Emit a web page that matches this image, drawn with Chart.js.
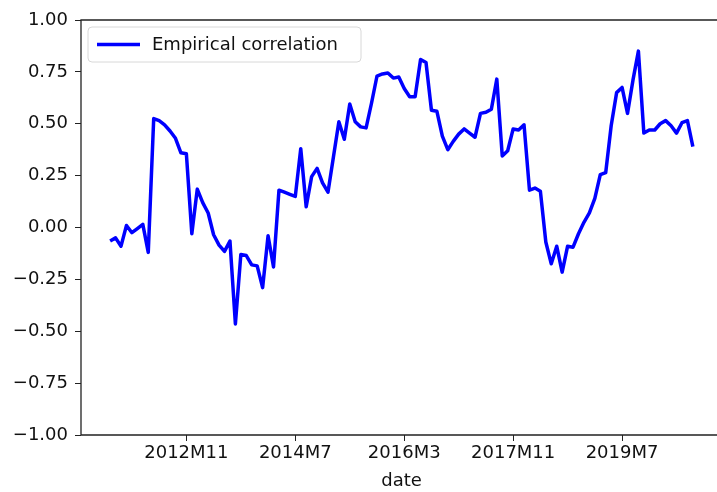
<!DOCTYPE html>
<html>
<head>
<meta charset="utf-8">
<script src="https://cdn.jsdelivr.net/npm/chart.js@4/dist/chart.umd.min.js"></script>
<style>
  html, body { margin: 0; padding: 0; background: #fff; overflow: hidden; width: 717px; height: 492px; }
  #wrap { position: absolute; left: 0; top: 0; width: 717px; height: 492px; overflow: hidden; }
  #corrChart { display: block; }
</style>
</head>
<body>
<div id="wrap"><canvas id="corrChart" width="740" height="492"></canvas></div>
<script>
// months 2011M9 .. 2020M8
var months = [
  '2011M9','2011M10','2011M11','2011M12',
  '2012M1','2012M2','2012M3','2012M4','2012M5','2012M6','2012M7','2012M8','2012M9','2012M10','2012M11','2012M12',
  '2013M1','2013M2','2013M3','2013M4','2013M5','2013M6','2013M7','2013M8','2013M9','2013M10','2013M11','2013M12',
  '2014M1','2014M2','2014M3','2014M4','2014M5','2014M6','2014M7','2014M8','2014M9','2014M10','2014M11','2014M12',
  '2015M1','2015M2','2015M3','2015M4','2015M5','2015M6','2015M7','2015M8','2015M9','2015M10','2015M11','2015M12',
  '2016M1','2016M2','2016M3','2016M4','2016M5','2016M6','2016M7','2016M8','2016M9','2016M10','2016M11','2016M12',
  '2017M1','2017M2','2017M3','2017M4','2017M5','2017M6','2017M7','2017M8','2017M9','2017M10','2017M11','2017M12',
  '2018M1','2018M2','2018M3','2018M4','2018M5','2018M6','2018M7','2018M8','2018M9','2018M10','2018M11','2018M12',
  '2019M1','2019M2','2019M3','2019M4','2019M5','2019M6','2019M7','2019M8','2019M9','2019M10','2019M11','2019M12',
  '2020M1','2020M2','2020M3','2020M4','2020M5','2020M6','2020M7','2020M8'
];

var correlation = [
  -0.065, -0.05, -0.09, 0.01, -0.025, -0.005, 0.015, -0.12, 0.525, 0.515,
  0.495, 0.465, 0.43, 0.36, 0.355, -0.03, 0.185, 0.12, 0.07, -0.035,
  -0.085, -0.115, -0.065, -0.465, -0.13, -0.135, -0.18, -0.185, -0.29, -0.04,
  -0.19, 0.18, 0.17, 0.16, 0.15, 0.38, 0.10, 0.245, 0.285, 0.215,
  0.17, 0.34, 0.51, 0.425, 0.595, 0.51, 0.485, 0.48, 0.60, 0.73,
  0.74, 0.745, 0.72, 0.725, 0.67, 0.63, 0.63, 0.81, 0.795, 0.565,
  0.56, 0.44, 0.375, 0.415, 0.45, 0.475, 0.455, 0.435, 0.55, 0.555,
  0.57, 0.715, 0.345, 0.37, 0.475, 0.47, 0.495, 0.18, 0.19, 0.175,
  -0.07, -0.175, -0.09, -0.215, -0.09, -0.095, -0.03, 0.025, 0.07, 0.14,
  0.255, 0.265, 0.49, 0.65, 0.675, 0.55, 0.71, 0.85, 0.455, 0.47,
  0.47, 0.50, 0.515, 0.49, 0.455, 0.505, 0.515, 0.39
];

var xTickLabels = ['2012M11', '2014M7', '2016M3', '2017M11', '2019M7'];
var yTicks = [-1, -0.75, -0.5, -0.25, 0, 0.25, 0.5, 0.75, 1];

var seriesName = 'Empirical correlation';
var lineColor = '#0000ff';
var fontFamily = '"DejaVu Sans", sans-serif';

var points = correlation.map(function (v, i) { return { x: i, y: v }; });
var pad = (months.length - 1) * 0.05;

// left, top and bottom spines (the right one is cut off in the picture)
var framePlugin = {
  id: 'frame',
  afterDraw: function (chart) {
    var a = chart.chartArea, ctx = chart.ctx;
    ctx.save();
    ctx.strokeStyle = '#222';
    ctx.lineWidth = 1.3;
    ctx.beginPath();
    ctx.moveTo(chart.width, a.top);
    ctx.lineTo(a.left, a.top);
    ctx.lineTo(a.left, a.bottom);
    ctx.lineTo(chart.width, a.bottom);
    ctx.stroke();
    ctx.restore();
  }
};

// legend box in the upper left corner
var boxLegend = {
  id: 'boxLegend',
  afterDraw: function (chart) {
    var a = chart.chartArea, ctx = chart.ctx;
    var x = a.left + 7, y = a.top + 7, w = 273, h = 35, r = 4;
    ctx.save();
    ctx.beginPath();
    ctx.roundRect(x, y, w, h, r);
    ctx.fillStyle = 'rgba(255,255,255,0.8)';
    ctx.fill();
    ctx.strokeStyle = '#d8d8d8';
    ctx.lineWidth = 1;
    ctx.stroke();
    ctx.beginPath();
    ctx.moveTo(x + 9, y + h / 2);
    ctx.lineTo(x + 52, y + h / 2);
    ctx.strokeStyle = lineColor;
    ctx.lineWidth = 3.5;
    ctx.stroke();
    ctx.fillStyle = '#111';
    ctx.font = '18px ' + fontFamily;
    ctx.textBaseline = 'middle';
    ctx.fillText(chart.data.datasets[0].label, x + 64, y + h / 2 + 1);
    ctx.restore();
  }
};

new Chart(document.getElementById('corrChart'), {
  type: 'line',
  data: {
    datasets: [{
      label: seriesName,
      data: points,
      borderColor: lineColor,
      borderWidth: 3.5,
      borderJoinStyle: 'round',
      pointRadius: 0,
      tension: 0,
      fill: false
    }]
  },
  options: {
    responsive: false,
    animation: false,
    devicePixelRatio: 1,
    layout: { padding: { top: 20, right: 18, bottom: 0, left: 0 } },
    plugins: { legend: { display: false }, tooltip: { enabled: false } },
    scales: {
      x: {
        type: 'linear',
        min: -pad,
        max: months.length - 1 + pad,
        afterBuildTicks: function (scale) {
          scale.ticks = xTickLabels.map(function (l) { return { value: months.indexOf(l) }; });
        },
        afterFit: function (scale) { scale.height = 57; },
        grid: { drawOnChartArea: false, drawTicks: true, tickLength: 6, color: '#222' },
        border: { display: false },
        ticks: {
          autoSkip: false,
          maxRotation: 0,
          padding: 2,
          color: '#111',
          font: { family: fontFamily, size: 18 },
          callback: function (v) { return months[v]; }
        },
        title: {
          display: true,
          text: 'date',
          color: '#111',
          padding: { top: 0, bottom: 0 },
          font: { family: fontFamily, size: 18 }
        }
      },
      y: {
        min: -1,
        max: 1,
        afterBuildTicks: function (scale) {
          scale.ticks = yTicks.map(function (v) { return { value: v }; });
        },
        afterFit: function (scale) { scale.width = 81; },
        grid: { drawOnChartArea: false, drawTicks: true, tickLength: 6, color: '#222' },
        border: { display: false },
        ticks: {
          padding: 7,
          color: '#111',
          font: { family: fontFamily, size: 18 },
          callback: function (v) { return v.toFixed(2).replace('-', '\u2212'); }
        }
      }
    }
  },
  plugins: [framePlugin, boxLegend]
});
</script>
</body>
</html>
